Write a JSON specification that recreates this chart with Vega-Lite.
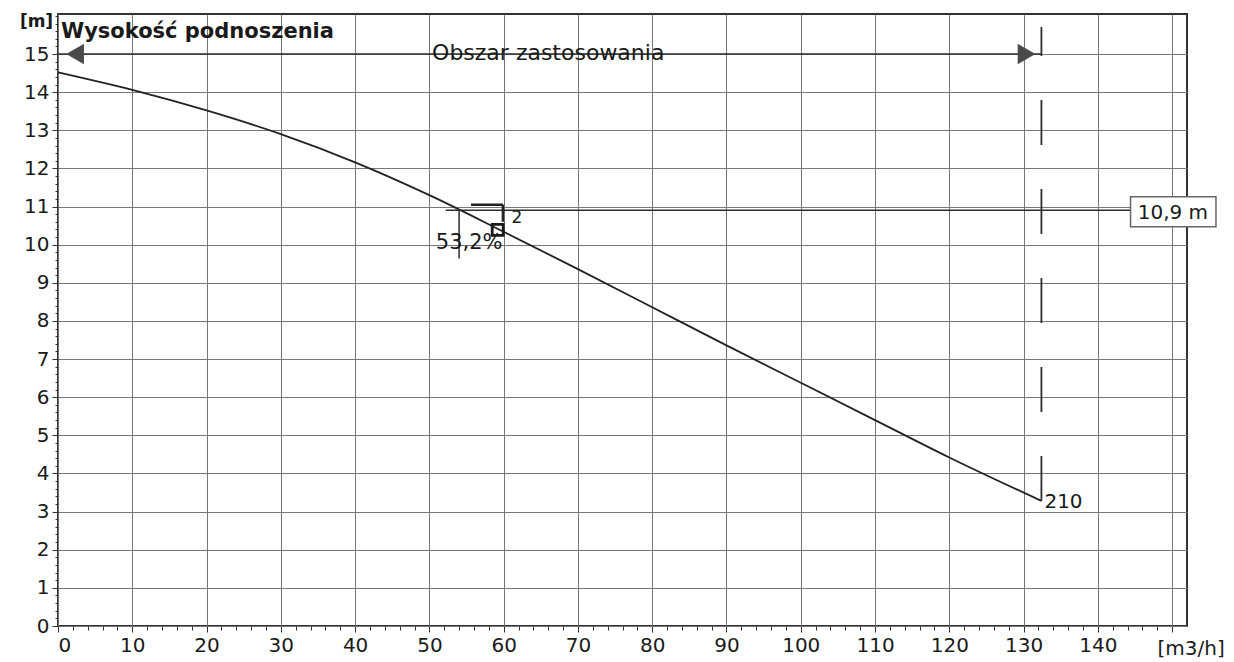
{
  "$schema": "https://vega.github.io/schema/vega-lite/v6.json",
  "width": 1129,
  "height": 612,
  "autosize": {"type": "none"},
  "padding": {"left": 58, "top": 14, "right": 47, "bottom": 36},
  "background": "white",
  "config": {
    "font": "DejaVu Sans",
    "view": {"stroke": "#333333", "strokeWidth": 2},
    "axis": {
      "labelFont": "DejaVu Sans",
      "labelFontSize": 20,
      "labelColor": "#1a1a1a",
      "tickColor": "#333333",
      "gridColor": "#777777",
      "gridWidth": 1,
      "domain": false,
      "titleFont": "DejaVu Sans",
      "titleColor": "#1a1a1a"
    }
  },
  "datasets": {
    "curve": [
      {"q": 0, "h": 14.52}, {"q": 10, "h": 14.06}, {"q": 20, "h": 13.52}, {"q": 30, "h": 12.9},
      {"q": 40, "h": 12.16}, {"q": 50, "h": 11.3}, {"q": 60, "h": 10.34}, {"q": 70, "h": 9.36},
      {"q": 80, "h": 8.36}, {"q": 90, "h": 7.36}, {"q": 100, "h": 6.38}, {"q": 110, "h": 5.4},
      {"q": 120, "h": 4.42}, {"q": 132.4, "h": 3.28}
    ],
    "thin": [
      {"q": 0, "q2": 132.4, "h": 15, "h2": 15},
      {"q": 52.2, "q2": 144.4, "h": 10.9, "h2": 10.9},
      {"q": 54, "q2": 54, "h": 10.9, "h2": 9.64}
    ],
    "bracket": [
      {"q": 55.6, "q2": 59.9, "h": 11.05, "h2": 11.05},
      {"q": 59.9, "q2": 59.9, "h": 11.05, "h2": 10.6}
    ],
    "limit": [{"q": 132.4, "q2": 132.4, "h": 3.28, "h2": 15.71}],
    "arrows": [
      {"q": 2.3, "h": 15, "shape": "triangle-left"},
      {"q": 130.4, "h": 15, "shape": "triangle-right"}
    ],
    "op": [{"q": 59.2, "h": 10.39}],
    "box": [{"q": 144.4, "q2": 155.9, "h": 11.26, "h2": 10.47}],
    "title": [{"q": 0.4, "h": 15.41, "label": "Wysokość podnoszenia"}],
    "area": [{"q": 66, "h": 15, "label": "Obszar zastosowania"}],
    "eff": [{"q": 55.36, "h": 10.04, "label": "53,2%"}],
    "num": [{"q": 61.8, "h": 10.71, "label": "2"}],
    "head": [{"q": 150.1, "h": 10.84, "label": "10,9 m"}],
    "end": [{"q": 132.4, "h": 3.25, "label": "210"}]
  },
  "encoding": {
    "x": {"field": "q", "type": "quantitative", "scale": {"domain": [0, 152], "nice": false, "zero": false}, "axis": null},
    "y": {"field": "h", "type": "quantitative", "scale": {"domain": [0, 16.05], "nice": false, "zero": false}, "axis": null}
  },
  "layer": [
    {
      "data": {"name": "curve"},
      "mark": {"type": "point", "opacity": 0},
      "encoding": {
        "x": {"field": "q", "type": "quantitative", "scale": {"domain": [0, 152], "nice": false, "zero": false},
          "axis": {"orient": "bottom", "title": null, "labels": false, "grid": false, "tickSize": 4,
            "values": [0,2,4,6,8,10,12,14,16,18,20,22,24,26,28,30,32,34,36,38,40,42,44,46,48,50,52,54,56,58,60,62,64,66,68,70,72,74,76,78,80,82,84,86,88,90,92,94,96,98,100,102,104,106,108,110,112,114,116,118,120,122,124,126,128,130,132,134,136,138,140,142,144,146,148,150]}},
        "y": {"field": "h", "type": "quantitative", "scale": {"domain": [0, 16.05], "nice": false, "zero": false},
          "axis": {"orient": "left", "title": null, "labels": false, "grid": false, "tickSize": 3,
            "values": [0,0.2,0.4,0.6,0.8,1,1.2,1.4,1.6,1.8,2,2.2,2.4,2.6,2.8,3,3.2,3.4,3.6,3.8,4,4.2,4.4,4.6,4.8,5,5.2,5.4,5.6,5.8,6,6.2,6.4,6.6,6.8,7,7.2,7.4,7.6,7.8,8,8.2,8.4,8.6,8.8,9,9.2,9.4,9.6,9.8,10,10.2,10.4,10.6,10.8,11,11.2,11.4,11.6,11.8,12,12.2,12.4,12.6,12.8,13,13.2,13.4,13.6,13.8,14,14.2,14.4,14.6,14.8,15,15.2,15.4,15.6,15.8,16]}}
      }
    },
    {
      "data": {"name": "curve"},
      "mark": {"type": "line", "color": "#222222", "strokeWidth": 1.8, "interpolate": "monotone"},
      "encoding": {
        "x": {"field": "q", "type": "quantitative", "scale": {"domain": [0, 152], "nice": false, "zero": false},
          "axis": {"orient": "bottom", "values": [0,10,20,30,40,50,60,70,80,90,100,110,120,130,140,150], "format": "d",
            "labelExpr": "datum.value == 150 ? '' : datum.label", "grid": true, "tickSize": 6, "labelPadding": 3,
            "title": "[m3/h]", "titleX": 1099, "titleY": 22, "titleAlign": "left", "titleBaseline": "middle",
            "titleFontSize": 20, "titleFontWeight": "normal", "titleAngle": 0}},
        "y": {"field": "h", "type": "quantitative", "scale": {"domain": [0, 16.05], "nice": false, "zero": false},
          "axis": {"orient": "left", "values": [0,1,2,3,4,5,6,7,8,9,10,11,12,13,14,15], "format": "d",
            "grid": true, "tickSize": 6, "labelPadding": 3,
            "title": "[m]", "titleX": -22, "titleY": 7, "titleAlign": "center", "titleBaseline": "middle",
            "titleAngle": 0, "titleFontSize": 17, "titleFontWeight": "bold"}}
      }
    },
    {
      "data": {"name": "thin"},
      "mark": {"type": "rule", "color": "#2e2e2e", "strokeWidth": 1.5},
      "encoding": {"x2": {"field": "q2"}, "y2": {"field": "h2"}}
    },
    {
      "data": {"name": "bracket"},
      "mark": {"type": "rule", "color": "#222222", "strokeWidth": 2.5},
      "encoding": {"x2": {"field": "q2"}, "y2": {"field": "h2"}}
    },
    {
      "data": {"name": "limit"},
      "mark": {"type": "rule", "color": "#2e2e2e", "strokeWidth": 1.8, "strokeDash": [45, 44]},
      "encoding": {"x2": {"field": "q2"}, "y2": {"field": "h2"}}
    },
    {
      "data": {"name": "arrows"},
      "mark": {"type": "point", "filled": true, "color": "#4a4a4a", "size": 420, "opacity": 1},
      "encoding": {"shape": {"field": "shape", "type": "nominal", "scale": null, "legend": null}}
    },
    {
      "data": {"name": "op"},
      "mark": {"type": "point", "shape": "square", "filled": false, "color": "#1a1a1a", "strokeWidth": 2.8, "size": 121, "opacity": 1}
    },
    {
      "data": {"name": "box"},
      "mark": {"type": "rect", "fill": "white", "stroke": "#666666", "strokeWidth": 1.5},
      "encoding": {"x2": {"field": "q2"}, "y2": {"field": "h2"}}
    },
    {
      "data": {"name": "title"},
      "mark": {"type": "text", "font": "DejaVu Sans", "fontWeight": "bold", "fontSize": 21, "align": "left", "baseline": "alphabetic", "color": "#1a1a1a"},
      "encoding": {"text": {"field": "label"}}
    },
    {
      "data": {"name": "area"},
      "mark": {"type": "text", "font": "DejaVu Sans", "fontSize": 22, "align": "center", "baseline": "alphabetic", "dy": 6, "color": "#1a1a1a"},
      "encoding": {"text": {"field": "label"}}
    },
    {
      "data": {"name": "eff"},
      "mark": {"type": "text", "font": "DejaVu Sans", "fontSize": 21, "align": "center", "baseline": "middle", "color": "#1a1a1a"},
      "encoding": {"text": {"field": "label"}}
    },
    {
      "data": {"name": "num"},
      "mark": {"type": "text", "font": "DejaVu Sans", "fontSize": 17, "align": "center", "baseline": "middle", "color": "#1a1a1a"},
      "encoding": {"text": {"field": "label"}}
    },
    {
      "data": {"name": "head"},
      "mark": {"type": "text", "font": "DejaVu Sans", "fontSize": 20, "align": "center", "baseline": "middle", "color": "#1a1a1a"},
      "encoding": {"text": {"field": "label"}}
    },
    {
      "data": {"name": "end"},
      "mark": {"type": "text", "font": "DejaVu Sans", "fontSize": 20, "align": "left", "baseline": "middle", "dx": 3, "color": "#1a1a1a"},
      "encoding": {"text": {"field": "label"}}
    }
  ],
  "resolve": {"axis": {"x": "independent", "y": "independent"}}
}
